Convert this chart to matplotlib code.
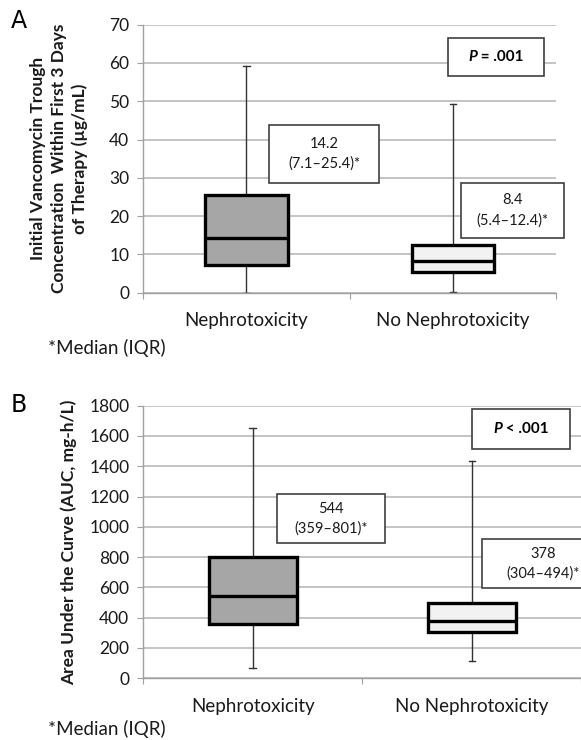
import numpy as np
import matplotlib
matplotlib.use('Agg')
import matplotlib.pyplot as plt
from matplotlib.patches import Rectangle
from matplotlib.offsetbox import TextArea, HPacker, AnnotationBbox

plt.rcParams['font.family'] = ['Lato', 'DejaVu Sans']

categories = ['Nephrotoxicity', 'No Nephrotoxicity']

# Panel A: trough concentration (ug/mL)
trough_med = [14.2, 8.4]
trough_q1 = [7.1, 5.4]
trough_q3 = [25.4, 12.4]
trough_lo = [0.0, 0.3]
trough_hi = [59.3, 49.2]
trough_p = '= .001'

# Panel B: AUC (mg-h/L)
auc_med = [544, 378]
auc_q1 = [359, 304]
auc_q3 = [801, 494]
auc_lo = [66, 114]
auc_hi = [1651, 1435]
auc_p = '< .001'

fills = ['#a6a6a6', '#f2f2f2']
grid_c = '#bfbfbf'


def stats(med, q1, q3, lo, hi):
    return [dict(med=med[i], q1=q1[i], q3=q3[i], whislo=lo[i], whishi=hi[i],
                 label=categories[i]) for i in range(len(med))]


def fmt(v):
    return f'{v:g}'


def panel(ax, st, ylim, ystep, ylabel, lab_boxes, p_box, p_txt, letter, lab_y, foot_y):
    bp = ax.bxp(st, positions=[0.5, 1.5], widths=0.4, patch_artist=True,
                showfliers=False, capwidths=0.03, manage_ticks=False,
                boxprops=dict(edgecolor='black', linewidth=2.4),
                medianprops=dict(color='black', linewidth=2.4),
                whiskerprops=dict(color='#333333', linewidth=1.0),
                capprops=dict(color='#333333', linewidth=1.0))
    for b, c in zip(bp['boxes'], fills):
        b.set_facecolor(c)
        b.set_zorder(3)
    for m in bp['medians']:
        m.set_zorder(4)

    ax.set_xlim(0, 2)
    ax.set_ylim(*ylim)
    ax.set_yticks(np.arange(ylim[0], ylim[1] + ystep / 2, ystep))
    ax.yaxis.grid(True, color=grid_c, lw=1.3)
    ax.set_axisbelow(True)
    for s in ['top', 'right']:
        ax.spines[s].set_visible(False)
    for s in ['left', 'bottom']:
        ax.spines[s].set_color('#a0a0a0')
        ax.spines[s].set_linewidth(1.0)
    ax.tick_params(axis='y', length=4, color='#a0a0a0', labelsize=12.5, pad=6, labelcolor='#1a1a1a')
    ax.set_xticks([0, 1, 2])
    ax.set_xticklabels([])
    ax.tick_params(axis='x', which='major', length=4, color='#a0a0a0')
    ax.set_xticks([0.5, 1.5], minor=True)
    ax.set_xticklabels(categories, minor=True)
    ax.tick_params(axis='x', which='minor', length=0, labelsize=13.5, pad=14, labelcolor='#1a1a1a')

    for i, (x0, x1, y0, y1) in enumerate(lab_boxes):
        r = Rectangle((x0, y0), x1 - x0, y1 - y0, facecolor='white', edgecolor='#404040',
                      lw=1.2, zorder=5, clip_on=False)
        ax.add_patch(r)
        txt = f'{fmt(st[i]["med"])}\n({fmt(st[i]["q1"])}\u2013{fmt(st[i]["q3"])})*'
        ax.text((x0 + x1) / 2, (y0 + y1) / 2, txt, ha='center', va='center', fontsize=10.5,
                linespacing=1.5, color='#1a1a1a', zorder=6, clip_on=False)

    x0, x1, y0, y1 = p_box
    ax.add_patch(Rectangle((x0, y0), x1 - x0, y1 - y0, facecolor='white', edgecolor='#404040',
                           lw=1.2, zorder=5, clip_on=False))
    pk = HPacker(children=[TextArea('P', textprops=dict(fontsize=11, weight='bold', style='italic')),
                           TextArea(' ' + p_txt, textprops=dict(fontsize=11, weight='bold'))],
                 align='baseline', pad=0, sep=0)
    ab = AnnotationBbox(pk, ((x0 + x1) / 2, (y0 + y1) / 2), frameon=False, zorder=7,
                        annotation_clip=False)
    ax.add_artist(ab)

    ax.set_ylabel(ylabel, fontsize=12.5, weight='bold', linespacing=1.38, color='#1a1a1a')
    ax.yaxis.label.set_va('center')
    fig.text(0.018, lab_y, letter, fontsize=17, family='DejaVu Sans', va='top')
    fig.text(0.083, foot_y, '*Median (IQR)', fontsize=13.5, va='center', color='#1a1a1a')


fig = plt.figure(figsize=(5.81, 7.40), dpi=100)
axA = fig.add_axes([0.2466, 0.6045, 0.7103, 0.3622])
axB = fig.add_axes([0.2466, 0.0834, 0.7539, 0.3684])

panel(axA, stats(trough_med, trough_q1, trough_q3, trough_lo, trough_hi), (0, 70), 10,
      'Initial Vancomycin Trough\nConcentration  Within First 3 Days\nof Therapy (\u00b5g/mL)',
      [(0.608, 1.144, 28.6, 43.8), (1.54, 2.04, 14.4, 28.6)],
      (1.478, 1.942, 56.5, 66.4), trough_p, 'A', 1 - 9 / 740, 1 - 348 / 740)
axA.yaxis.set_label_coords(-0.204, 0.5)

panel(axB, stats(auc_med, auc_q1, auc_q3, auc_lo, auc_hi), (0, 1800), 200,
      'Area Under the Curve (AUC, mg-h/L)',
      [(0.61, 1.105, 892, 1217), (1.548, 2.1, 594, 920)],
      (1.503, 1.949, 1513, 1777), auc_p, 'B', 1 - 393 / 740, 1 - 729 / 740)
axB.yaxis.set_label_coords(-0.171, 0.5)

fig.savefig('out.png', dpi=100)
